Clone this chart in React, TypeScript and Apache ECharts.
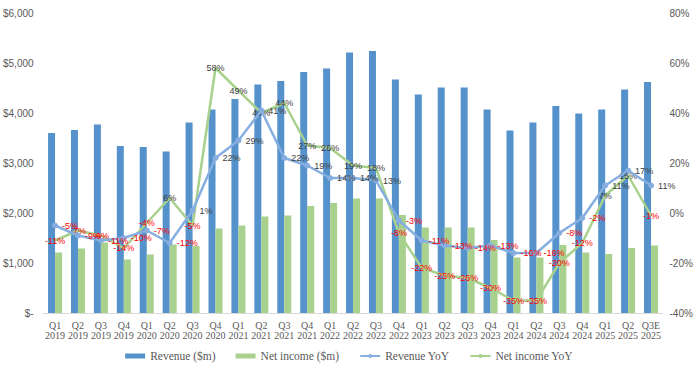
import React, { useEffect, useRef } from 'react';
import * as echarts from 'echarts';

const categories = [
  'Q1\n2019', 'Q2\n2019', 'Q3\n2019', 'Q4\n2019',
  'Q1\n2020', 'Q2\n2020', 'Q3\n2020', 'Q4\n2020',
  'Q1\n2021', 'Q2\n2021', 'Q3\n2021', 'Q4\n2021',
  'Q1\n2022', 'Q2\n2022', 'Q3\n2022', 'Q4\n2022',
  'Q1\n2023', 'Q2\n2023', 'Q3\n2023', 'Q4\n2023',
  'Q1\n2024', 'Q2\n2024', 'Q3\n2024', 'Q4\n2024',
  'Q1\n2025', 'Q2\n2025', 'Q3E\n2025',
];

const revenue = [
  3600, 3660, 3770, 3340, 3320, 3230, 3810, 4070, 4280, 4570, 4640, 4820, 4890, 5210,
  5240, 4670, 4370, 4510, 4510, 4070, 3650, 3810, 4140, 3990, 4070, 4470, 4620,
];

const netIncome = [
  1210, 1290, 1410, 1070, 1170, 1370, 1340, 1690, 1750, 1930, 1950, 2140, 2200, 2290,
  2290, 1960, 1710, 1710, 1710, 1460, 1110, 1110, 1360, 1210, 1180, 1300, 1350,
];

const revenueYoY = [
  -5, -9, -11, -10, -7, -12, 1, 22, 29, 41, 22, 19, 14, 14, 13, -3, -11, -13, -14, -13,
  -16, -16, -8, -2, 11, 17, 11,
];

const netIncomeYoY = [
  -11, -7, -9, -14, -4, 6, -5, 58, 49, 40, 44, 27, 26, 19, 18, -8, -22, -25, -26, -30,
  -35, -35, -20, -12, 7, 15, -1,
];

const leftTicks = { min: 0, max: 6000, interval: 1000 };
const rightTicks = { min: -40, max: 80, interval: 20 };

const SANS = "'Liberation Sans Narrow', 'Liberation Sans', Arial, sans-serif";
const SERIF = "'Liberation Serif', 'Times New Roman', serif";

const labelled = (arr: number[]) =>
  arr.map((v) => ({ value: v, label: { color: v < 0 ? '#FF0000' : '#404040' } }));

export default function App() {
  const ref = useRef<HTMLDivElement>(null);
  useEffect(() => {
    const chart = echarts.init(ref.current!, null, { renderer: 'svg' });
    chart.setOption({
      animation: false,
      backgroundColor: '#ffffff',
      grid: { left: 43.5, right: 35.5, top: 13, bottom: 61, containLabel: false },
      legend: {
        top: 345,
        left: 'center',
        itemWidth: 20,
        itemHeight: 5,
        itemGap: 20,
        textStyle: { fontFamily: SERIF, fontSize: 11.5, color: '#595959' },
        data: [
          { name: 'Revenue ($m)', icon: 'rect' },
          { name: 'Net income ($m)', icon: 'rect' },
          { name: 'Revenue YoY' },
          { name: 'Net income YoY' },
        ],
      },
      xAxis: {
        type: 'category',
        data: categories,
        axisLine: { lineStyle: { color: '#D9D9D9', width: 1 } },
        axisTick: { show: false },
        axisLabel: {
          interval: 0,
          fontFamily: SERIF,
          fontSize: 10,
          lineHeight: 10,
          color: '#595959',
          margin: 7,
        },
      },
      yAxis: [
        {
          type: 'value',
          ...leftTicks,
          axisLine: { show: false },
          axisTick: { show: false },
          splitLine: { show: false },
          axisLabel: {
            fontFamily: SANS,
            fontSize: 10,
            color: '#595959',
            margin: 10,
            formatter: (v: number) => (v === 0 ? '$-' : '$' + v.toLocaleString('en-US')),
          },
        },
        {
          type: 'value',
          ...rightTicks,
          axisLine: { show: false },
          axisTick: { show: false },
          splitLine: { show: false },
          axisLabel: {
            fontFamily: SANS,
            fontSize: 10,
            color: '#595959',
            margin: 7,
            formatter: (v: number) => v + '%',
          },
        },
      ],
      series: [
        {
          name: 'Revenue ($m)',
          type: 'bar',
          data: revenue,
          barWidth: 7,
          barGap: '0%',
          itemStyle: { color: '#5592CB' },
          z: 2,
        },
        {
          name: 'Net income ($m)',
          type: 'bar',
          data: netIncome,
          barWidth: 7,
          barGap: '0%',
          itemStyle: { color: '#A9D18E' },
          z: 2,
        },
        {
          name: 'Revenue YoY',
          type: 'line',
          yAxisIndex: 1,
          data: labelled(revenueYoY),
          symbol: 'circle',
          symbolSize: 6,
          lineStyle: { color: '#86AEE0', width: 2.5 },
          itemStyle: { color: '#86AEE0' },
          label: {
            show: true,
            position: 'right',
            distance: 4,
            fontFamily: SANS,
            fontSize: 9,
            formatter: (p: any) => p.value + '%',
          },
          z: 4,
        },
        {
          name: 'Net income YoY',
          type: 'line',
          yAxisIndex: 1,
          data: labelled(netIncomeYoY),
          symbol: 'circle',
          symbolSize: 1,
          lineStyle: { color: '#A9D18E', width: 2.5 },
          itemStyle: { color: '#A9D18E' },
          label: {
            show: true,
            position: 'inside',
            fontFamily: SANS,
            fontSize: 9,
            formatter: (p: any) => p.value + '%',
          },
          z: 3,
        },
      ],
    });
    return () => chart.dispose();
  }, []);
  return (
    <div
      ref={ref}
      style={{ position: 'fixed', left: 0, top: 0, width: 698, height: 374 }}
    />
  );
}
